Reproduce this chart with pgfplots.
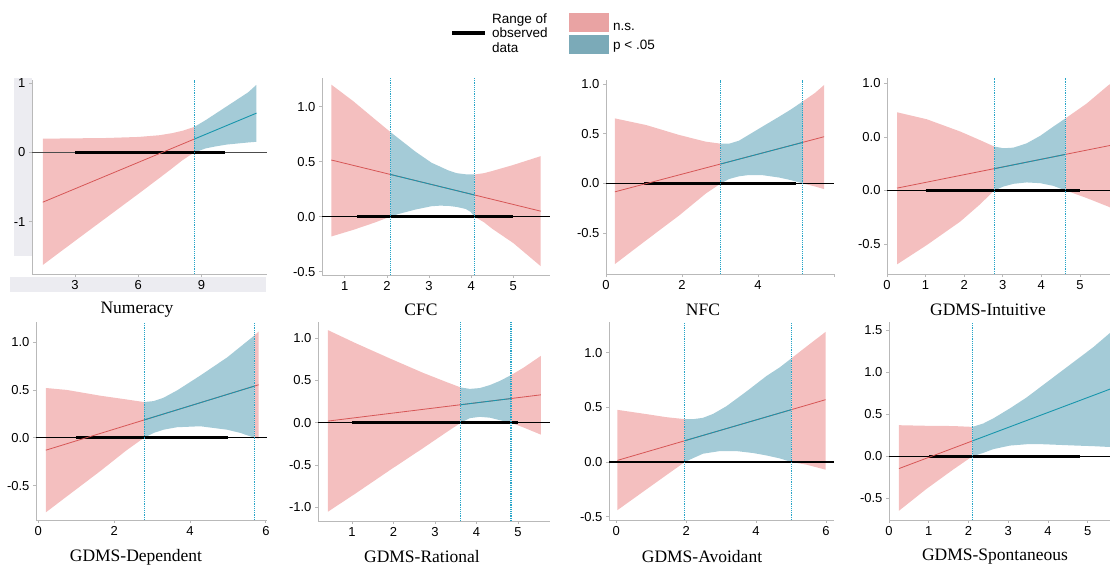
\documentclass[border=0pt]{standalone}
\usepackage{fontspec}
\setmainfont{Liberation Serif}
\setsansfont{Liberation Sans}
\usepackage{pgfplots}
\pgfplotsset{compat=1.18}

\definecolor{pinkband}{RGB}{244,191,191}
\definecolor{blueband}{RGB}{164,203,215}
\definecolor{redline}{RGB}{214,86,86}
\definecolor{blueline}{RGB}{24,150,172}
\definecolor{jncol}{RGB}{40,165,200}
\definecolor{axgray}{RGB}{185,185,185}
\definecolor{stripgray}{RGB}{236,236,241}
\definecolor{legpink}{RGB}{233,163,163}
\definecolor{legblue}{RGB}{123,170,184}

\newcommand{\tickfont}{\fontsize{13}{13}\selectfont\sffamily}
\newcommand{\titlefont}{\fontsize{17.5}{18}\selectfont\rmfamily}

\pgfplotsset{
  jn/.style={scale only axis, anchor=south west,
    axis x line*=bottom, axis y line*=left,
    axis line style={draw=axgray, line width=0.9pt},
    tick style={draw=axgray, line width=0.8pt},
    major tick length=3pt, tick align=outside,
    ticklabel style={font=\tickfont, text=black},
    enlargelimits=false},
  ns/.style={fill=pinkband, draw=none},
  sig/.style={fill=blueband, draw=none},
  zeroline/.style={black, line width=1.1pt},
  rangeline/.style={black, line width=2.8pt},
  fitred/.style={redline, line width=0.8pt},
  fitblue/.style={blueline, line width=0.9pt},
  jnline/.style={jncol, densely dotted, line width=1.2pt},
}

\begin{document}
\begin{tikzpicture}[x=1pt, y=1pt]
\path[use as bounding box] (0,0) rectangle (1110,566);

% legend
\draw[black, line width=3.5pt] (452,533) -- (485,533);
\node[anchor=west, align=left, font=\fontsize{13.5}{14.5}\selectfont\sffamily, inner sep=0pt] at (492,533) {Range of\\observed\\data};
\fill[legpink] (569,533.5) rectangle (609,553);
\fill[legblue] (569,512) rectangle (609,530.5);
\node[anchor=west, font=\fontsize{13.5}{14}\selectfont\sffamily, inner sep=0pt] at (613,539) {n.s.};
\node[anchor=west, font=\fontsize{13.5}{14}\selectfont\sffamily, inner sep=0pt] at (613,520) {p < .05};

% grey strips around the first panel
\fill[stripgray] (14,310) rectangle (32,488);
\fill[stripgray] (10,274) rectangle (266,289);

% ---------------- Numeracy
\begin{axis}[jn, at={(32pt,292pt)}, width=235pt, height=194pt,
  xmin=0.96, xmax=12.1, ymin=-1.76, ymax=1.05,
  xtick={3,6,9}, xticklabels={3,6,9},
  ytick={-1,0,1}, yticklabels={-1,0,1}]
\addplot[ns] coordinates {(1.47,0.20) (3,0.205) (4.5,0.21) (6,0.225) (7,0.25) (7.6,0.28) (8.1,0.315) (8.65,0.37)
  (8.65,0) (8.1,-0.11) (7.6,-0.23) (7,-0.37) (6,-0.6) (4.5,-0.94) (3,-1.28) (1.47,-1.63)} --cycle;
\addplot[sig] coordinates {(8.65,0.37) (9.2,0.47) (9.7,0.57) (10.2,0.67) (10.7,0.77) (11.2,0.87) (11.6,0.98)
  (11.6,0.155) (11.2,0.145) (10.7,0.13) (10.2,0.115) (9.7,0.09) (9.2,0.06) (8.65,0)} --cycle;
\addplot[black!70, line width=1.1pt] coordinates {(0.96,0) (12.1,0)};
\addplot[rangeline] coordinates {(3,0) (10.1,0)};
\addplot[fitred] coordinates {(1.47,-0.72) (8.65,0.194)};
\addplot[fitblue] coordinates {(8.65,0.194) (11.6,0.57)};
\addplot[jnline] coordinates {(8.65,-1.76) (8.65,1.05)};
\end{axis}

% ---------------- CFC
\begin{axis}[jn, at={(322pt,291pt)}, width=228pt, height=197pt,
  xmin=0.46, xmax=5.87, ymin=-0.53, ymax=1.26,
  xtick={1,2,3,4,5}, xticklabels={1,2,3,4,5},
  ytick={-0.5,0,0.5,1}, yticklabels={-0.5,0.0,0.5,1.0}]
\addplot[ns] coordinates {(0.68,1.20) (1.2,1.05) (1.7,0.89) (2.08,0.77)
  (2.08,0) (1.7,-0.055) (1.2,-0.12) (0.68,-0.18)} --cycle;
\addplot[sig] coordinates {(2.08,0.77) (2.28,0.71) (2.48,0.65) (2.68,0.59) (2.87,0.54) (3.06,0.49) (3.26,0.455) (3.46,0.42) (3.66,0.395) (3.87,0.385) (4.08,0.383)
  (4.08,0) (3.98,0.045) (3.87,0.07) (3.66,0.088) (3.46,0.098) (3.26,0.10) (3.06,0.095) (2.87,0.08) (2.68,0.065) (2.48,0.045) (2.28,0.025) (2.08,0)} --cycle;
\addplot[ns] coordinates {(4.08,0.383) (4.3,0.395) (4.5,0.415) (5.0,0.47) (5.65,0.55)
  (5.65,-0.45) (5.0,-0.24) (4.5,-0.11) (4.3,-0.05) (4.08,0)} --cycle;
\addplot[zeroline] coordinates {(0.46,0) (5.87,0)};
\addplot[rangeline] coordinates {(1.3,0) (5,0)};
\addplot[fitred] coordinates {(0.68,0.515) (5.65,0.05)};
\addplot[fitblue] coordinates {(2.08,0.384) (4.08,0.197)};
\addplot[jnline] coordinates {(2.09,-0.53) (2.09,1.26)};
\addplot[jnline] coordinates {(4.08,-0.53) (4.08,1.26)};
\end{axis}

% ---------------- NFC
\begin{axis}[jn, at={(606pt,292pt)}, width=228pt, height=194pt,
  xmin=0, xmax=6, ymin=-0.91, ymax=1.04,
  xtick={0,2,4,6}, xticklabels={0,2,4,{}},
  ytick={-0.5,0,0.5,1}, yticklabels={-0.5,0.0,0.5,1.0}]
\addplot[ns] coordinates {(0.235,0.654) (1.06,0.587) (1.93,0.487) (2.63,0.42) (3.02,0.40)
  (3.02,0) (2.63,-0.10) (1.93,-0.32) (1.06,-0.57) (0.235,-0.81)} --cycle;
\addplot[sig] coordinates {(3.02,0.40) (3.24,0.40) (3.5,0.43) (3.76,0.49) (4.11,0.57) (4.55,0.67) (4.85,0.74) (5.18,0.825)
  (5.18,0) (4.85,0.035) (4.55,0.06) (4.11,0.084) (3.76,0.085) (3.5,0.072) (3.24,0.045) (3.02,0)} --cycle;
\addplot[ns] coordinates {(5.18,0.825) (5.5,0.91) (5.74,0.99)
  (5.74,-0.057) (5.5,-0.03) (5.18,0)} --cycle;
\addplot[zeroline] coordinates {(0,0) (6,0)};
\addplot[rangeline] coordinates {(1,0) (5,0)};
\addplot[fitred] coordinates {(0.235,-0.084) (5.74,0.47)};
\addplot[fitblue] coordinates {(3.02,0.196) (5.18,0.413)};
\addplot[jnline] coordinates {(3.02,-0.91) (3.02,1.04)};
\addplot[jnline] coordinates {(5.18,-0.91) (5.18,1.04)};
\end{axis}

% ---------------- GDMS-Intuitive
\begin{axis}[jn, at={(887pt,292pt)}, width=223pt, height=196pt,
  xmin=0, xmax=5.78, ymin=-0.78, ymax=1.05,
  xtick={0,1,2,3,4,5}, xticklabels={0,1,2,3,4,5},
  ytick={-0.5,0,0.5,1}, yticklabels={-0.5,0.0,0.0,1.0}]
\addplot[ns] coordinates {(0.26,0.73) (1.03,0.665) (1.9,0.55) (2.41,0.47) (2.78,0.41)
  (2.78,0) (2.41,-0.13) (1.9,-0.29) (1.03,-0.51) (0.26,-0.69)} --cycle;
\addplot[sig] coordinates {(2.78,0.41) (3.02,0.394) (3.28,0.40) (3.62,0.44) (3.97,0.51) (4.31,0.596) (4.63,0.674)
  (4.63,0) (4.31,0.043) (3.97,0.068) (3.62,0.075) (3.28,0.062) (3.02,0.037) (2.78,0)} --cycle;
\addplot[ns] coordinates {(4.63,0.674) (5.17,0.81) (5.73,0.98) (5.85,1.01)
  (5.85,-0.17) (5.73,-0.15) (5.17,-0.07) (4.63,0)} --cycle;
\addplot[zeroline] coordinates {(0,0) (5.78,0)};
\addplot[rangeline] coordinates {(1,0) (5,0)};
\addplot[fitred] coordinates {(0.26,0.022) (5.85,0.425)};
\addplot[fitblue] coordinates {(2.78,0.203) (4.63,0.337)};
\addplot[jnline] coordinates {(2.78,-0.78) (2.78,1.05)};
\addplot[jnline] coordinates {(4.63,-0.78) (4.63,1.05)};
\end{axis}

% ---------------- GDMS-Dependent
\begin{axis}[jn, at={(36pt,46pt)}, width=231pt, height=198pt,
  xmin=-0.06, xmax=6.03, ymin=-0.86, ymax=1.21,
  xtick={0,2,4,6}, xticklabels={0,2,4,6},
  ytick={-0.5,0,0.5,1}, yticklabels={-0.5,0.0,0.5,1.0}]
\addplot[ns] coordinates {(0.2,0.52) (0.75,0.50) (1.63,0.44) (2.33,0.40) (2.79,0.373)
  (2.79,0) (2.33,-0.13) (1.63,-0.35) (0.75,-0.614) (0.2,-0.78)} --cycle;
\addplot[sig] coordinates {(2.79,0.373) (3.04,0.383) (3.30,0.418) (3.66,0.495) (4.27,0.65) (4.98,0.84) (5.70,1.07)
  (5.70,0) (5.33,0.05) (4.98,0.084) (4.27,0.12) (3.66,0.11) (3.30,0.084) (3.04,0.05) (2.79,0)} --cycle;
\addplot[ns] coordinates {(5.70,1.07) (5.81,1.11) (5.81,-0.01) (5.70,0)} --cycle;
\addplot[zeroline] coordinates {(-0.06,0) (6.03,0)};
\addplot[rangeline] coordinates {(1,0) (5,0)};
\addplot[fitred] coordinates {(0.2,-0.13) (5.81,0.554)};
\addplot[fitblue] coordinates {(2.79,0.186) (5.70,0.54)};
\addplot[jnline] coordinates {(2.79,-0.86) (2.79,1.21)};
\addplot[jnline] coordinates {(5.70,-0.86) (5.70,1.21)};
\end{axis}

% ---------------- GDMS-Rational
\begin{axis}[jn, at={(318pt,45pt)}, width=232pt, height=199pt,
  xmin=0.18, xmax=5.77, ymin=-1.16, ymax=1.19,
  xtick={1,2,3,4,5}, xticklabels={1,2,3,4,5},
  ytick={-1,-0.5,0,0.5,1}, yticklabels={-1.0,-0.5,0.0,0.5,1.0}]
\addplot[ns] coordinates {(0.42,1.094) (1.10,0.937) (1.91,0.76) (2.71,0.59) (3.28,0.48) (3.62,0.417)
  (3.62,0) (3.28,-0.11) (2.71,-0.30) (1.91,-0.56) (1.10,-0.83) (0.42,-1.05)} --cycle;
\addplot[sig] coordinates {(3.62,0.417) (3.84,0.40) (4.08,0.41) (4.32,0.445) (4.57,0.496) (4.83,0.563)
  (4.83,0) (4.57,0.03) (4.32,0.06) (4.08,0.07) (3.84,0.055) (3.62,0)} --cycle;
\addplot[ns] coordinates {(4.83,0.563) (5.13,0.65) (5.55,0.79)
  (5.55,-0.14) (5.13,-0.055) (4.83,0)} --cycle;
\addplot[zeroline] coordinates {(0.18,0) (5.77,0)};
\addplot[rangeline] coordinates {(1,0) (5,0)};
\addplot[fitred] coordinates {(0.42,0.02) (5.55,0.33)};
\addplot[fitblue] coordinates {(3.62,0.213) (4.83,0.286)};
\addplot[jnline] coordinates {(3.62,-1.16) (3.62,1.19)};
\addplot[jnline] coordinates {(4.83,-1.16) (4.83,1.19)};
\end{axis}

% ---------------- GDMS-Avoidant
\begin{axis}[jn, at={(609pt,46pt)}, width=225pt, height=198pt,
  xmin=-0.21, xmax=6.23, ymin=-0.53, ymax=1.28,
  xtick={0,2,4,6}, xticklabels={0,2,4,6},
  ytick={-0.5,0,0.5,1}, yticklabels={-0.5,0.0,0.5,1.0}]
\addplot[ns] coordinates {(0.03,0.477) (0.86,0.438) (1.43,0.41) (1.96,0.392)
  (1.96,0) (1.43,-0.12) (0.86,-0.25) (0.03,-0.44)} --cycle;
\addplot[sig] coordinates {(1.96,0.392) (2.2,0.392) (2.48,0.404) (2.77,0.44) (3.15,0.51) (3.72,0.644) (4.3,0.787) (4.68,0.866) (5.01,0.948)
  (5.01,0) (4.68,0.033) (4.3,0.06) (3.92,0.082) (3.44,0.10) (2.96,0.10) (2.48,0.076) (2.2,0.036) (1.96,0)} --cycle;
\addplot[ns] coordinates {(5.01,0.948) (5.44,1.055) (5.99,1.19)
  (5.99,-0.07) (5.44,-0.024) (5.01,0)} --cycle;
\addplot[zeroline] coordinates {(-0.21,0) (6.23,0)};
\addplot[rangeline] coordinates {(1,0) (5.03,0)};
\addplot[fitred] coordinates {(0.03,0.015) (5.99,0.57)};
\addplot[fitblue] coordinates {(1.96,0.195) (5.01,0.479)};
\addplot[jnline] coordinates {(1.96,-0.53) (1.96,1.28)};
\addplot[jnline] coordinates {(5.01,-0.53) (5.01,1.28)};
\end{axis}

% ---------------- GDMS-Spontaneous
\begin{axis}[jn, at={(889pt,46pt)}, width=221pt, height=198pt,
  xmin=0, xmax=5.56, ymin=-0.76, ymax=1.6,
  xtick={0,1,2,3,4,5}, xticklabels={0,1,2,3,4,5},
  ytick={-0.5,0,0.5,1,1.5}, yticklabels={-0.5,0.0,0.5,1.0,1.5}]
\addplot[ns] coordinates {(0.25,0.37) (0.94,0.363) (1.61,0.36) (2.1,0.35)
  (2.1,0) (1.61,-0.16) (0.94,-0.39) (0.25,-0.65)} --cycle;
\addplot[sig] coordinates {(2.1,0.35) (2.37,0.39) (2.62,0.45) (3.04,0.57) (3.46,0.70) (3.88,0.85) (4.3,1.0) (4.72,1.15) (5.14,1.30) (5.56,1.47) (5.65,1.50)
  (5.65,0.108) (5.14,0.12) (4.72,0.127) (4.3,0.135) (3.88,0.143) (3.46,0.143) (3.04,0.127) (2.62,0.084) (2.37,0.04) (2.1,0)} --cycle;
\addplot[zeroline] coordinates {(0,0) (5.56,0)};
\addplot[rangeline] coordinates {(1,0) (4.8,0)};
\addplot[fitred] coordinates {(0.25,-0.147) (2.1,0.183)};
\addplot[fitblue] coordinates {(2.1,0.183) (5.65,0.816)};
\addplot[jnline] coordinates {(2.1,-0.76) (2.1,1.6)};
\end{axis}

% panel titles
\node[font=\titlefont] at (137,256) {Numeracy};
\node[font=\titlefont] at (421,256) {CFC};
\node[font=\titlefont] at (703,256) {NFC};
\node[font=\titlefont] at (988,256) {GDMS-Intuitive};
\node[font=\titlefont] at (136,9) {GDMS-Dependent};
\node[font=\titlefont] at (422,9) {GDMS-Rational};
\node[font=\titlefont] at (702,9) {GDMS-Avoidant};
\node[font=\titlefont] at (995,9) {GDMS-Spontaneous};
\end{tikzpicture}
\end{document}
